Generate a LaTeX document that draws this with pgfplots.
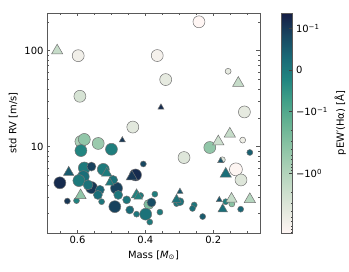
\documentclass[border=0pt]{standalone}
\usepackage{pgfplots}
\usepackage{pgfplotstable}
\pgfplotsset{compat=1.18}
\usepackage{fontspec}
\setmainfont{DejaVu Sans}

\pgfplotstableread{
x y c s
0.598 88.7 -2.45 6
0.365 89 -2.5 6
0.242 200 -2.63 6
0.156 61 -2.3 3
0.34 50 -2.3 6
0.593 33.5 -2.1 6
0.108 23 -2.3 6
0.437 16 -2.25 6
0.113 11.7 -2.4 3
0.21 9.8 -1.3 6
0.286 7.7 -2.2 6
0.092 8.7 0.3 3
0.173 7.3 -2.2 3
0.133 5.8 -2.6 6.5
0.118 4.5 -2.2 6
0.163 2.67 -0.05 3
0.145 2.53 -1.2 3
0.119 2.23 0.25 3
0.256 2.47 0.05 3
0.261 2.27 0.15 3
0.231 1.87 0.35 3
0.308 2.55 0.05 3
0.298 2.67 0.1 4
0.59 11.3 -1.6 6
0.58 11.9 -1.3 6
0.539 10.8 -1.4 6
0.59 9.1 -0.15 6
0.5 9.4 -0.05 6
0.406 6.6 0.55 3
0.58 6.0 0.0 6
0.559 6.2 0.6 4.5
0.524 5.8 0.0 6
0.583 4.87 0.15 6
0.596 4.43 0.0 6
0.652 4.2 0.8 6
0.559 3.75 0.7 6
0.569 4.0 0.1 5
0.534 3.55 0.25 4.5
0.485 3.69 0.6 6
0.48 3.14 0.05 4.5
0.54 3.14 0.15 4.5
0.603 2.74 -0.1 3
0.63 2.71 0.7 3
0.529 2.67 0.05 3
0.49 2.37 0.6 6
0.455 2.79 0.05 4
0.414 3.1 0.0 3
0.444 2.24 0.1 3
0.426 1.98 0.05 3
0.39 2.5 -1.1 5
0.399 1.98 0.1 6
0.387 1.64 0.0 3
0.357 2.08 0.0 3
0.372 3.2 -0.05 3
0.382 2.62 0.5 4.5
0.429 5.07 0.8 6
0.495 4.5 0.1 4.5
0.446 2.19 0.2 4
}\tabcirc

\pgfplotstableread{
x y c s
0.66 100 -1.9 6.5
0.354 25.7 0.8 3.5
0.126 46 -1.9 6.5
0.151 13.6 -1.9 6.5
0.185 11.3 -2.0 6.5
0.178 7.1 0.4 3.5
0.163 5.2 0.15 6.5
0.182 2.79 0.4 3.5
0.146 2.85 -1.9 6.5
0.092 2.83 -1.7 6.5
0.172 2.23 0.15 5.5
0.298 3.4 0.4 3.5
0.308 2.8 0.1 5.5
0.468 11.7 0.7 3.5
0.626 5.4 0.35 6
0.514 5.3 0.0 6
0.505 4.22 0.0 5
0.44 4.87 0.7 6.5
0.426 3.15 -0.1 6
0.591 3.1 -1.3 6.5
0.421 3.01 -0.1 5
}\tabtri

\begin{document}
\begin{tikzpicture}
\path[use as bounding box] (-47bp,-39bp) rectangle (302bp,233bp);
\begin{axis}[
  at={(0,0)}, anchor=south west,
  scale only axis, width=213bp, height=220bp,
  xmin=0.062, xmax=0.69, x dir=reverse,
  ymode=log, ymin=1.26, ymax=247,
  xtick={0.2,0.4,0.6}, xticklabels={0.2,0.4,0.6},
  minor xtick={0.1,0.15,0.25,0.3,0.35,0.45,0.5,0.55,0.65},
  ytick={10,100}, yticklabels={10,100},
  minor ytick={2,3,4,5,6,7,8,9,20,30,40,50,60,70,80,90,200},
  tick align=inside, xtick pos=both, ytick pos=both,
  major tick length=3.5bp, minor tick length=2bp,
  axis line style={black!65},
  tick style={black!65, line width=0.5bp},
  every tick label/.append style={font=\fontsize{10}{12}\selectfont},
  label style={font=\fontsize{10}{12}\selectfont},
  xlabel={Mass [\textit{M}\textsubscript{⊙}]},
  ylabel={std RV [m/s]},
  colormap={tempo}{rgb255(0)=(255,246,244); rgb255(1)=(228,233,222); rgb255(2)=(200,221,202); rgb255(3)=(170,208,182); rgb255(4)=(137,194,163); rgb255(5)=(101,178,146); rgb255(6)=(66,160,136); rgb255(7)=(33,133,128); rgb255(8)=(25,105,118); rgb255(9)=(24,70,96); rgb255(10)=(21,29,68)},
  point meta min=-2.63, point meta max=0.92,
  colorbar,
  colorbar style={
    at={(parent axis.north east)}, anchor=north west, xshift=13bp,
    scale only axis, width=11bp,
    ytick={-1.67,-0.67,0,0.67},
    yticklabels={−10\textsuperscript{0}, −10\textsuperscript{−1}, 0, 10\textsuperscript{−1}},
    minor ytick={-0.971,-1.147,-1.272,-1.369,-1.448,-1.515,-1.573,-1.624,-1.971,-2.147,-2.272,-2.369,-2.448,-2.515,-2.573,-2.624},
    tick align=inside, ytick pos=right,
    major tick length=3.5bp, minor tick length=2bp,
    tick style={black!75, line width=0.5bp},
    axis line style={black!65},
    every tick label/.append style={font=\fontsize{10}{12}\selectfont},
    ylabel={pEW′(Hα) [Å]},
    label style={font=\fontsize{10}{12}\selectfont},
  },
]
\addplot[scatter, only marks, mark=*, point meta=explicit,
  scatter/use mapped color={draw=black!55, fill=mapped color},
  visualization depends on={\thisrow{s}\as\msz},
  scatter/@pre marker code/.append style={/tikz/mark size=\msz},
  mark options={line width=0.5bp}]
  table[x=x, y=y, meta=c] {\tabcirc};
\addplot[scatter, only marks, mark=triangle*, point meta=explicit,
  scatter/use mapped color={draw=black!55, fill=mapped color},
  visualization depends on={\thisrow{s}\as\msz},
  scatter/@pre marker code/.append style={/tikz/mark size=\msz},
  mark options={line width=0.5bp}]
  table[x=x, y=y, meta=c] {\tabtri};
\end{axis}
\end{tikzpicture}
\end{document}
